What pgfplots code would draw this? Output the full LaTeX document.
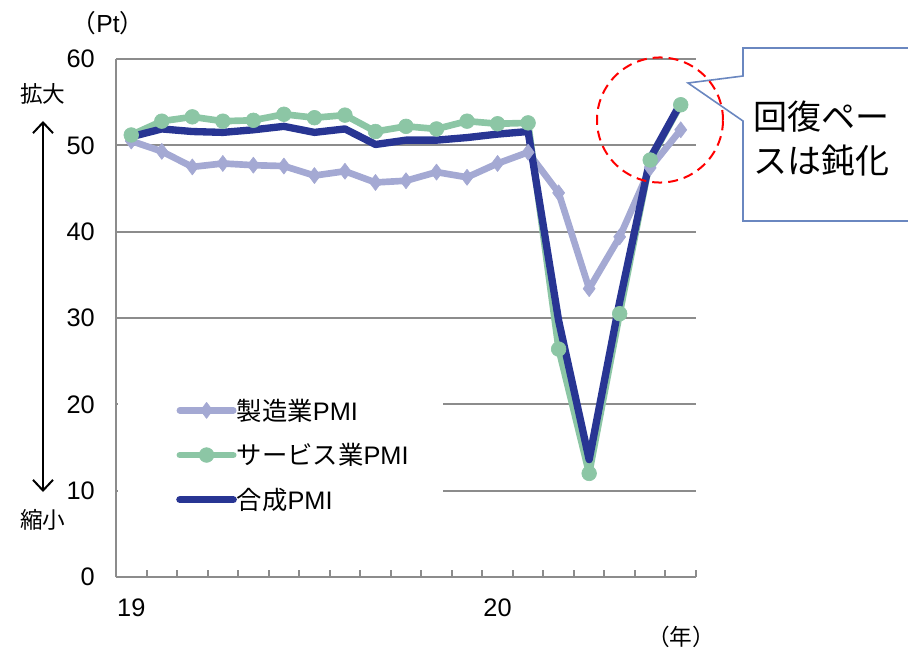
\documentclass[border=0pt]{standalone}
\usepackage{fontspec}
\setmainfont{Liberation Sans}
\newfontfamily\jp{Noto Sans CJK JP}
\usepackage{pgfplots}
\pgfplotsset{compat=1.18}
\usetikzlibrary{arrows.meta}
\definecolor{mfg}{HTML}{A4A9D3}
\definecolor{svc}{HTML}{8CC6A5}
\definecolor{cmp}{HTML}{283593}
\definecolor{gridgray}{HTML}{8C8C8C}
\definecolor{callout}{HTML}{6A87C0}
\begin{document}
\begin{tikzpicture}
\path[use as bounding box] (0pt,0pt) rectangle (681pt,-486.75pt);
\begin{axis}[
  at={(87pt,-432.75pt)}, anchor=south west,
  scale only axis, width=435pt, height=388.5pt,
  xmin=-0.5, xmax=18.5, ymin=0, ymax=60,
  ytick={0,10,...,60},
  xtick={0,12}, xticklabels={19,20},
  minor xtick={-0.5,0.5,...,18.5},
  axis x line*=bottom, axis y line*=left,
  axis line style={gridgray, line width=1.5pt},
  ymajorgrids, xmajorgrids=false, xminorgrids=false,
  grid style={gridgray, line width=1.5pt},
  major tick length=0pt, minor tick length=5pt, tick align=inside,
  minor tick style={gridgray, line width=1.5pt},
  tick label style={font=\fontsize{19}{21}\selectfont},
  /pgf/number format/assume math mode=true,
  yticklabel style={xshift=-12.4pt},
  xticklabel style={anchor=center, yshift=-22.9pt},
  legend style={at={(0.1034,0.2355)}, anchor=west, draw=none, fill=none,
    inner sep=0pt, row sep=12pt, column sep=-2pt,
    font=\fontsize{19}{21}\selectfont},
  legend cell align=left,
  legend image code/.code={\draw[mark repeat=2,mark phase=2,#1] plot coordinates {(0pt,0pt) (20pt,0pt) (40pt,0pt)};},
]
\fill[white] (axis cs:-0.45,6.6) rectangle (axis cs:10.2,22.2);
\addplot[mfg, line width=5pt, line join=round, line cap=round, mark=diamond*, mark size=6pt,
  mark options={solid, fill=mfg, draw=mfg, line width=0.5pt}] coordinates {
(0,50.5) (1,49.3) (2,47.5) (3,47.9) (4,47.7) (5,47.6) (6,46.5) (7,47.0) (8,45.7) (9,45.9)
(10,46.9) (11,46.3) (12,47.9) (13,49.2) (14,44.5) (15,33.4) (16,39.4) (17,47.4) (18,51.8)};
\addlegendentry{{\jp 製造業}PMI}
\addplot[svc, line width=5pt, line join=round, line cap=round, mark=*, mark size=5.5pt,
  mark options={solid, fill=svc, draw=svc, line width=0.5pt}] coordinates {
(0,51.2) (1,52.8) (2,53.3) (3,52.8) (4,52.9) (5,53.6) (6,53.2) (7,53.5) (8,51.6) (9,52.2)
(10,51.9) (11,52.8) (12,52.5) (13,52.6) (14,26.4) (15,12.0) (16,30.5) (17,48.3) (18,54.7)};
\addlegendentry{{\jp サービス業}PMI}
\addplot[cmp, line width=5.5pt, line join=round, line cap=round] coordinates {
(0,51.0) (1,51.9) (2,51.6) (3,51.5) (4,51.8) (5,52.2) (6,51.5) (7,51.9) (8,50.1) (9,50.6)
(10,50.6) (11,50.9) (12,51.3) (13,51.6) (14,29.7) (15,13.6) (16,31.9) (17,48.5) (18,54.9)};
\addlegendentry{{\jp 合成}PMI}
\end{axis}
\begin{scope}[x=0.75pt, y=-0.75pt]
\node[font=\fontsize{18.5}{21}\selectfont] at (108,23) {{\jp （}Pt{\jp ）}};
\node[font=\jp\fontsize{17}{19}\selectfont] at (43,94) {拡大};
\node[font=\jp\fontsize{17}{19}\selectfont] at (43,520) {縮小};
\draw[black, line width=1.5pt, {Straight Barb[length=8pt,width=15pt]}-{Straight Barb[length=8pt,width=15pt]}] (43,121) -- (43,492);
\node[font=\jp\fontsize{17}{19}\selectfont] at (681,637) {（年）};
\draw[callout, line width=1.2pt, fill=white] (915,48) -- (743,48) -- (743,76) -- (688,83) -- (743,121) -- (743,221) -- (915,221);
\node[anchor=west, align=left, inner sep=0pt, font=\jp\fontsize{25.5}{33}\selectfont] at (753,139) {回復ペー\\スは鈍化};
\draw[red, line width=1.5pt, dash pattern=on 7.5pt off 4.5pt] (660,120) ellipse [x radius=47.25pt, y radius=46.9pt];
\end{scope}
\end{tikzpicture}
\end{document}
